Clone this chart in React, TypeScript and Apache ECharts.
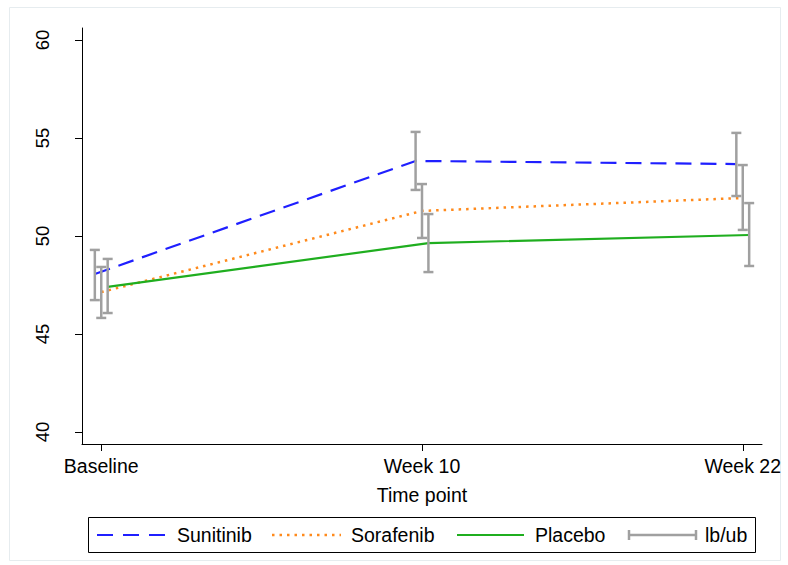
import React, { useEffect, useRef } from "react";
import * as echarts from "echarts";

const timePoints = ["Baseline", "Week 10", "Week 22"];
const timePositions = [1, 2, 3];
const yTicks = [40, 45, 50, 55, 60];

const sunX = [0.98, 1.98, 2.98];
const sunMean = [48.06, 53.83, 53.67];
const sunLb = [46.73, 52.35, 52.04];
const sunUb = [49.29, 55.31, 55.26];

const sorX = [1.0, 2.0, 3.0];
const sorMean = [47.14, 51.28, 51.94];
const sorLb = [45.82, 49.9, 50.31];
const sorUb = [48.42, 52.65, 53.62];

const plaX = [1.02, 2.02, 3.02];
const plaMean = [47.4, 49.64, 50.05];
const plaLb = [46.07, 48.16, 48.47];
const plaUb = [48.83, 51.12, 51.68];

const FONT = "'Liberation Sans', Arial, Helvetica, sans-serif";
const BLUE = "#1f1fff";
const ORANGE = "#ff8a1c";
const GREEN = "#1fae1f";
const GRAY = "#a0a0a0";

export default function App() {
  const ref = useRef<HTMLDivElement>(null);
  useEffect(() => {
    if (!ref.current) return;
    const chart = echarts.init(ref.current, null, { renderer: "svg" });

    const zip = (xs: number[], ys: number[]) => xs.map((x, i) => [x, ys[i]]);
    const barData = [
      ...sunX.map((x, i) => [x, sunLb[i], sunUb[i]]),
      ...sorX.map((x, i) => [x, sorLb[i], sorUb[i]]),
      ...plaX.map((x, i) => [x, plaLb[i], plaUb[i]]),
    ];

    const legendY = 535;
    const legendText = (x: number, t: string) => ({
      type: "text",
      x,
      y: legendY,
      style: { text: t, font: `19.5px ${FONT}`, fill: "#000", verticalAlign: "middle", align: "left" },
    });

    chart.setOption({
      animation: false,
      backgroundColor: "#fff",
      grid: { left: 82, right: 26, top: 28, bottom: 121, containLabel: false },
      xAxis: {
        type: "value",
        min: 0.94,
        max: 3.06,
        name: "Time point",
        nameLocation: "middle",
        nameGap: 41,
        nameTextStyle: { fontFamily: FONT, fontSize: 19.5, color: "#000" },
        splitLine: { show: false },
        axisLine: { show: true, onZero: false, lineStyle: { color: "#000", width: 1 } },
        axisTick: { show: true, length: 7, customValues: timePositions, lineStyle: { color: "#000" } },
        axisLabel: {
          customValues: timePositions,
          margin: 12,
          fontFamily: FONT,
          fontSize: 19.5,
          color: "#000",
          formatter: (v: number) => timePoints[timePositions.indexOf(Math.round(v))] ?? "",
        },
      },
      yAxis: {
        type: "value",
        min: 39.388,
        max: 60.612,
        splitLine: { show: false },
        axisLine: { show: true, onZero: false, lineStyle: { color: "#000", width: 1 } },
        axisTick: { show: true, length: 7, customValues: yTicks, lineStyle: { color: "#000" } },
        axisLabel: {
          customValues: yTicks,
          rotate: 90,
          margin: 30,
          fontFamily: FONT,
          fontSize: 18.5,
          color: "#000",
        },
      },
      series: [
        {
          name: "Sunitinib",
          type: "line",
          data: zip(sunX, sunMean),
          showSymbol: false,
          symbol: "none",
          lineStyle: { color: BLUE, width: 2.2, type: [16, 9] },
          z: 2,
        },
        {
          name: "Sorafenib",
          type: "line",
          data: zip(sorX, sorMean),
          showSymbol: false,
          symbol: "none",
          lineStyle: { color: ORANGE, width: 2.5, type: [2.5, 5] },
          z: 2,
        },
        {
          name: "Placebo",
          type: "line",
          data: zip(plaX, plaMean),
          showSymbol: false,
          symbol: "none",
          lineStyle: { color: GREEN, width: 2.2 },
          z: 2,
        },
        {
          name: "lb/ub",
          type: "custom",
          z: 3,
          data: barData,
          renderItem: (params: any, api: any) => {
            const x = api.value(0);
            const top = api.coord([x, api.value(2)]);
            const bot = api.coord([x, api.value(1)]);
            const hw = 5;
            const st = { stroke: GRAY, lineWidth: 2.5 };
            return {
              type: "group",
              children: [
                { type: "line", shape: { x1: top[0], y1: top[1], x2: bot[0], y2: bot[1] }, style: st },
                { type: "line", shape: { x1: top[0] - hw, y1: top[1], x2: top[0] + hw, y2: top[1] }, style: st },
                { type: "line", shape: { x1: bot[0] - hw, y1: bot[1], x2: bot[0] + hw, y2: bot[1] }, style: st },
              ],
            };
          },
        },
      ],
      graphic: [
        {
          type: "rect",
          shape: { x: 9.5, y: 7.5, width: 771, height: 553 },
          style: { fill: "none", stroke: "#e6ecef", lineWidth: 1 },
          silent: true,
        },
        {
          type: "rect",
          shape: { x: 88.5, y: 517.5, width: 667, height: 35 },
          style: { fill: "#fff", stroke: "#000", lineWidth: 1 },
        },
        { type: "line", shape: { x1: 97, y1: legendY, x2: 166, y2: legendY }, style: { stroke: BLUE, lineWidth: 2.2, lineDash: [16, 10] } },
        legendText(177, "Sunitinib"),
        { type: "line", shape: { x1: 272, y1: legendY, x2: 341, y2: legendY }, style: { stroke: ORANGE, lineWidth: 2.5, lineDash: [2.5, 5] } },
        legendText(351, "Sorafenib"),
        { type: "line", shape: { x1: 457, y1: legendY, x2: 524, y2: legendY }, style: { stroke: GREEN, lineWidth: 2.2 } },
        legendText(535, "Placebo"),
        { type: "line", shape: { x1: 629, y1: legendY, x2: 696, y2: legendY }, style: { stroke: GRAY, lineWidth: 2.5 } },
        { type: "line", shape: { x1: 629, y1: legendY - 5, x2: 629, y2: legendY + 5 }, style: { stroke: GRAY, lineWidth: 2.5 } },
        { type: "line", shape: { x1: 696, y1: legendY - 5, x2: 696, y2: legendY + 5 }, style: { stroke: GRAY, lineWidth: 2.5 } },
        legendText(705, "lb/ub"),
      ],
    });
    return () => chart.dispose();
  }, []);
  return (
    <div
      ref={ref}
      style={{ position: "fixed", left: 0, top: 0, width: 788, height: 565, background: "#fff" }}
    />
  );
}
